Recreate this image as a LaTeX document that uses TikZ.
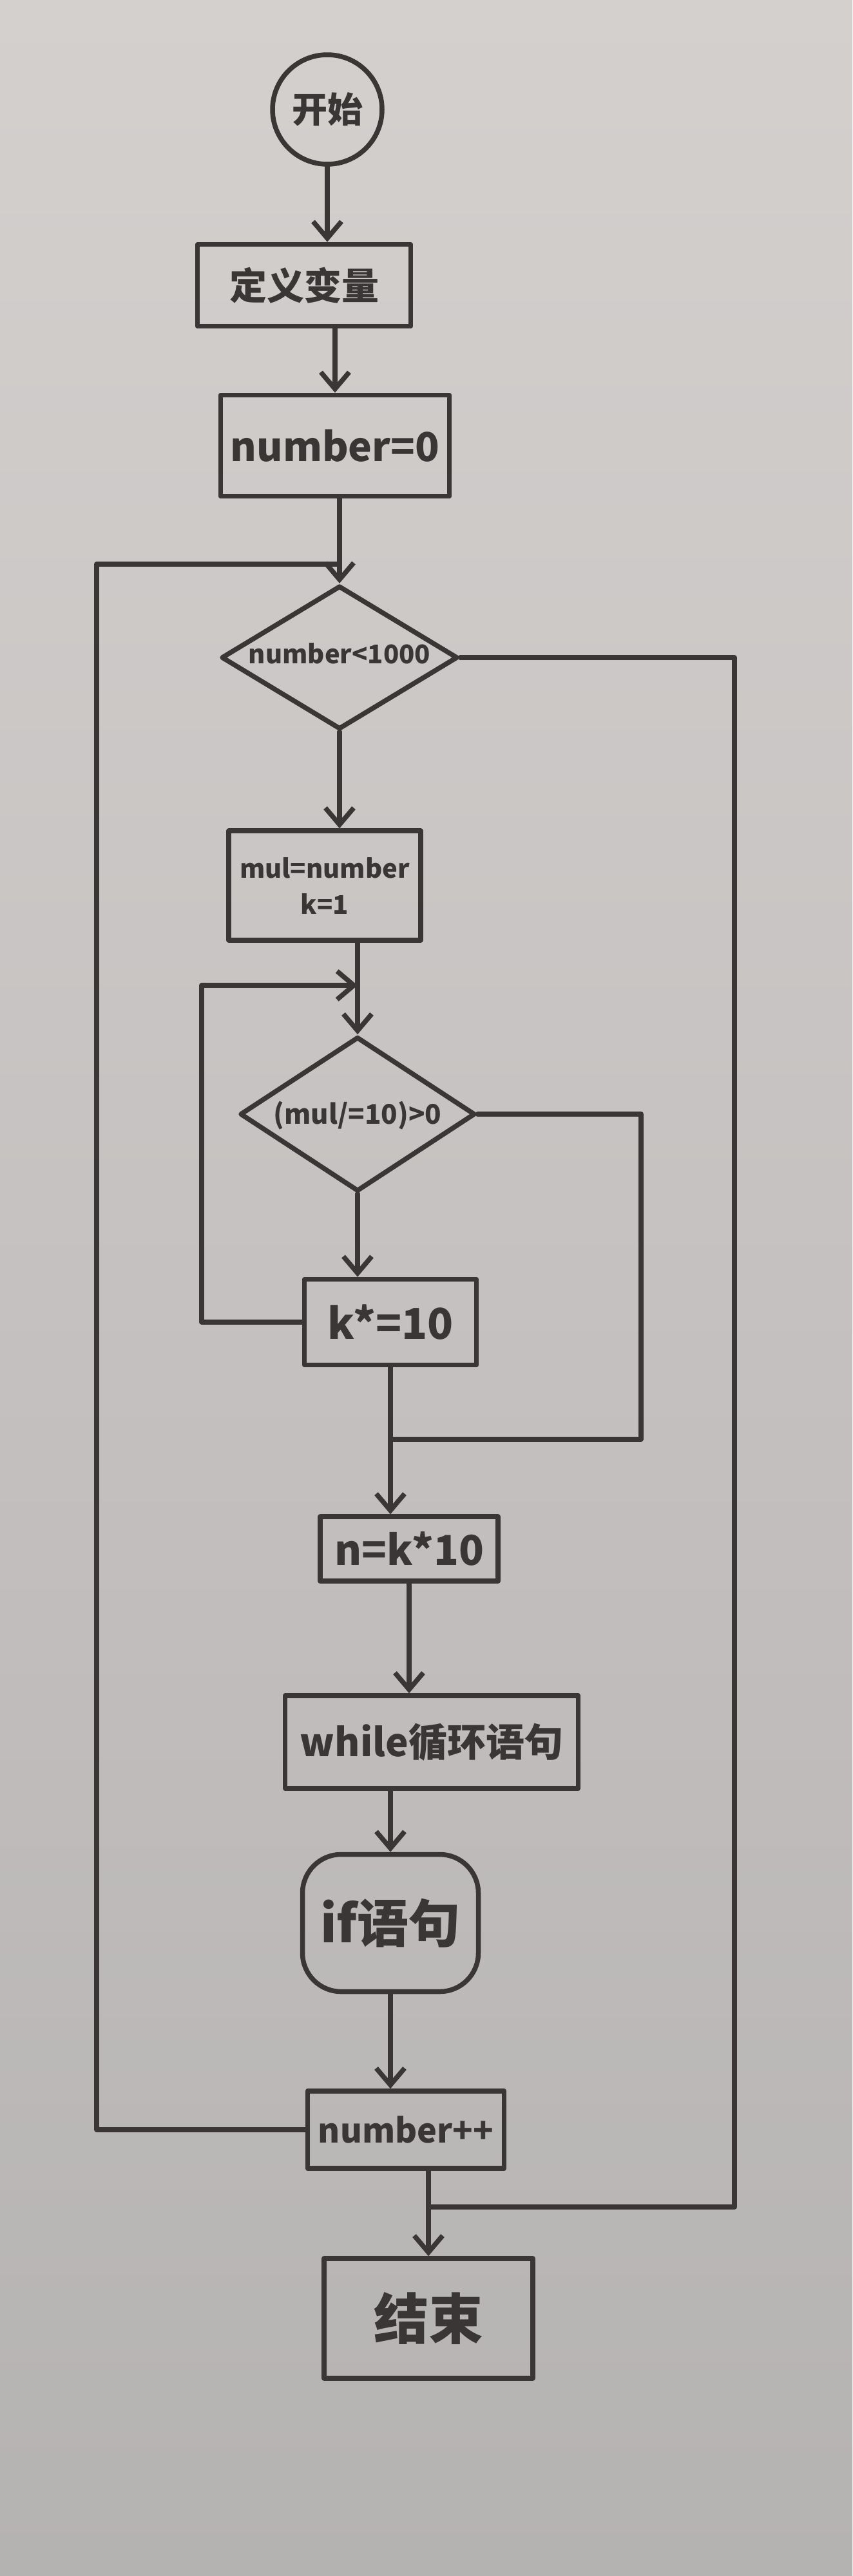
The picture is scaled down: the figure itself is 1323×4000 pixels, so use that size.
\documentclass[tikz,border=0pt]{standalone}
\usepackage{fontspec}
\newfontfamily\cjk{Noto Sans CJK SC}
\usetikzlibrary{shapes.geometric,arrows.meta,calc}
\definecolor{inkc}{HTML}{3A3636}
\definecolor{paperA}{HTML}{D4D0CE}
\definecolor{paperB}{HTML}{B5B2B2}
\begin{document}
\begin{tikzpicture}[x=1pt,y=-1pt,
  inkline/.style={draw=inkc, line width=7.5pt, line cap=round, line join=round},
  arr/.style={inkline, -{Straight Barb[length=26pt,width=44pt]}},
  fsz/.style={font=\cjk\bfseries\fontsize{#1}{#1}\selectfont},
  procbox/.style={inkline, rectangle, inner sep=0pt, text=inkc, align=center},
  dia/.style={inkline, diamond, inner sep=0pt},
  dtext/.style={inner sep=0pt, text=inkc}
]
\fill[top color=paperA, bottom color=paperB] (0,0) rectangle (1323,4000);
\useasboundingbox (0,0) rectangle (1323,4000);

% nodes
\node[inkline, circle, minimum size=170pt, inner sep=0pt, text=inkc, fsz=55] (start) at (508,170) {开始};
\node[procbox, minimum width=331pt, minimum height=127pt, fsz=58] (def) at (472,443) {定义变量};
\node[procbox, minimum width=355pt, minimum height=157pt, fsz=62] (n0) at (520,692) {number=0};
\node[dia, minimum width=367pt, minimum height=223pt] (d1) at (527,1021) {};
\node[dtext, fsz=40] (d1t) at (527,1015) {number<1000};
\node[procbox, minimum width=298pt, minimum height=170pt, font=\cjk\bfseries\fontsize{40}{56}\selectfont] (init) at (504,1375) {mul=number\\k=1};
\node[dia, minimum width=365pt, minimum height=240pt] (d2) at (555,1730) {};
\node[dtext, fsz=42] (d2t) at (555,1732) {(mul/=10)>0};
\node[procbox, minimum width=267pt, minimum height=133pt, fsz=66] (kmul) at (606,2053) {k*=10};
\node[procbox, minimum width=276pt, minimum height=100pt, fsz=64] (nk) at (635,2405) {n=k*10};
\node[procbox, minimum width=455pt, minimum height=144pt, fsz=60] (wh) at (670,2705) {while循环语句};
\node[procbox, rounded corners=60pt, minimum width=273pt, minimum height=213pt, fsz=80] (ifs) at (606,2986) {if语句};
\node[procbox, minimum width=305pt, minimum height=120pt, fsz=52] (inc) at (630,3307) {number++};
\node[procbox, minimum width=324pt, minimum height=186pt, fsz=85] (fin) at (665,3600) {结束};

% helper coordinates
\coordinate (j1) at ($(d1.north)+(0,-30)$);
\coordinate (ol) at (150,0);
\coordinate (ex1) at (1140,3427);
\coordinate (il) at (313,1530);
\coordinate (ex2) at (995,2235);

% main flow
\draw[arr] (start.south) -- (start.south |- def.north);
\draw[arr] (def.south -| n0.north) -- (n0.north);
\draw[arr] (n0.south -| d1.north) -- (d1.north);
\draw[arr] (d1.south) -- (d1.south |- init.north);
\draw[arr] (init.south -| d2.north) -- (d2.north);
\draw[arr] (d2.south) -- (d2.south |- kmul.north);
\draw[arr] (kmul.south) -- (kmul.south |- nk.north);
\draw[arr] (nk.south) -- (nk.south |- wh.north);
\draw[arr] (wh.south -| ifs.north) -- (ifs.north);
\draw[arr] (ifs.south) -- (ifs.south |- inc.north);
\draw[arr] (inc.south -| fin.north) -- (fin.north);

% outer loop back
\draw[inkline] (inc.west) -| (ol |- j1) -- (j1);
% outer exit
\draw[inkline] (d1.east) -| (ex1) -- (ex1 -| fin.north);
% inner loop back
\draw[arr] (kmul.west) -| (il) -- (il -| d2.north);
% inner exit
\draw[inkline] (d2.east) -| (ex2) -- (ex2 -| kmul.south);
\end{tikzpicture}
\end{document}
